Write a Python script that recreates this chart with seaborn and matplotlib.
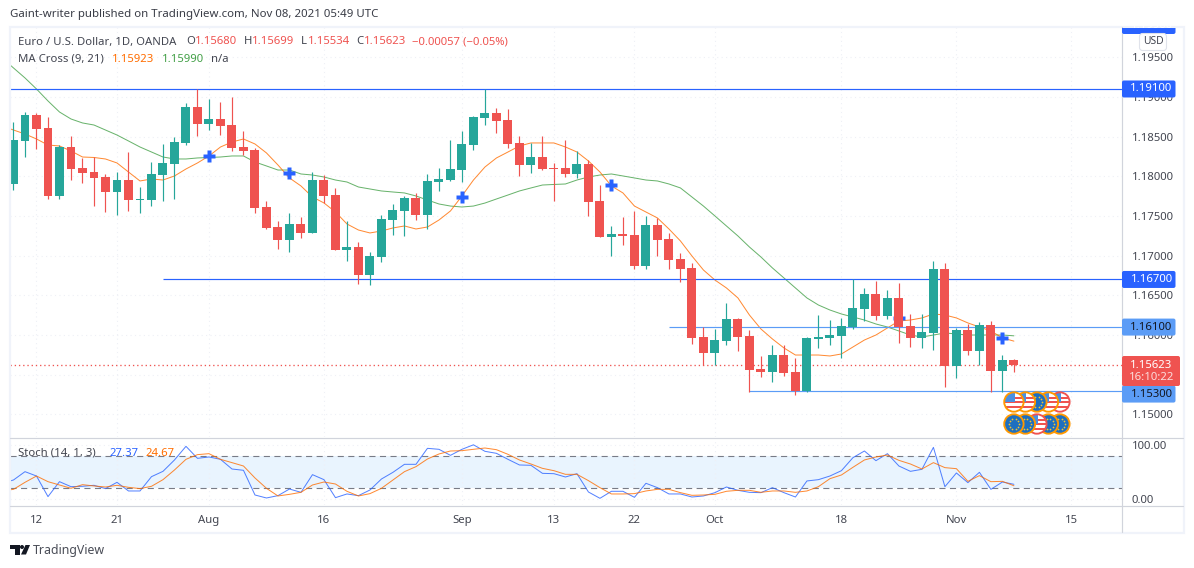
import numpy as np
import pandas as pd
import matplotlib
matplotlib.use("Agg")
import matplotlib.pyplot as plt
from matplotlib.patches import Rectangle, FancyBboxPatch, Circle, Polygon
import seaborn as sns

# ---------------- data ----------------
opens = [1.17903,1.18445,1.18772,1.18609,1.17752,1.18369,1.18105,1.18054,1.17991,1.17802,1.17953,1.17701,1.17701,1.18016,1.18155,1.18420,1.18873,1.18659,1.18722,1.18646,1.18369,1.18331,1.17613,1.17361,1.17197,1.17399,1.17286,1.17953,1.17765,1.17071,1.17109,1.16756,1.16983,1.17449,1.17563,1.17726,1.17512,1.17928,1.17953,1.18079,1.18394,1.18735,1.18798,1.18709,1.18420,1.18142,1.18243,1.18105,1.18105,1.18029,1.18155,1.17689,1.17235,1.17273,1.17260,1.16870,1.17386,1.17209,1.16958,1.16844,1.15975,1.15773,1.15924,1.16201,1.15987,1.15572,1.15534,1.15748,1.15534,1.15294,1.15950,1.15962,1.15987,1.16101,1.16327,1.16516,1.16239,1.16466,1.16113,1.15962,1.16025,1.16832,1.15609,1.16063,1.15798,1.16126,1.15546,1.15680]
highs = [1.18684,1.18810,1.18798,1.18747,1.18394,1.18508,1.18231,1.18243,1.18029,1.18054,1.18306,1.17865,1.18180,1.18407,1.18495,1.18924,1.19100,1.18974,1.18936,1.19000,1.18571,1.18357,1.17689,1.17437,1.17537,1.17487,1.18054,1.18016,1.17853,1.17437,1.17172,1.17046,1.17512,1.17651,1.17752,1.17789,1.18029,1.18105,1.18457,1.18571,1.18760,1.19100,1.18861,1.18848,1.18508,1.18420,1.18508,1.18168,1.18457,1.18319,1.18205,1.17890,1.17374,1.17487,1.17563,1.17500,1.17475,1.17285,1.17033,1.16907,1.16101,1.16076,1.16403,1.16214,1.16063,1.15735,1.15874,1.15874,1.15710,1.15975,1.16252,1.16189,1.16214,1.16705,1.16592,1.16680,1.16567,1.16655,1.16264,1.16264,1.16933,1.16907,1.16088,1.16138,1.16164,1.16176,1.15748,1.15699]
lows = [1.17827,1.18243,1.18344,1.17714,1.17714,1.17953,1.17915,1.17625,1.17550,1.17512,1.17563,1.17537,1.17625,1.17689,1.17714,1.18394,1.18508,1.18583,1.18520,1.18319,1.18268,1.17537,1.17336,1.17084,1.17046,1.17223,1.17286,1.17663,1.17071,1.16933,1.16643,1.16630,1.16920,1.17260,1.17247,1.17449,1.17336,1.17815,1.17941,1.17928,1.18331,1.18646,1.18546,1.18357,1.18004,1.18042,1.18079,1.17689,1.17991,1.17979,1.17500,1.17235,1.16995,1.17134,1.16832,1.16832,1.16995,1.16832,1.16668,1.15887,1.15622,1.15622,1.15874,1.15798,1.15282,1.15471,1.15408,1.15483,1.15244,1.15282,1.15836,1.15874,1.15710,1.16076,1.16176,1.16189,1.16201,1.15899,1.15849,1.15836,1.15811,1.15345,1.15458,1.15748,1.15622,1.15282,1.15282,1.15534]
closes = [1.18457,1.18772,1.18596,1.17752,1.18369,1.18092,1.18042,1.17979,1.17802,1.17953,1.17701,1.17714,1.18029,1.18168,1.18432,1.18873,1.18659,1.18722,1.18634,1.18357,1.18319,1.17601,1.17349,1.17197,1.17399,1.17286,1.17953,1.17752,1.17071,1.17109,1.16756,1.16995,1.17462,1.17575,1.17726,1.17512,1.17941,1.17966,1.18092,1.18407,1.18747,1.18798,1.18697,1.18407,1.18142,1.18243,1.18092,1.18092,1.18029,1.18155,1.17676,1.17235,1.17273,1.17248,1.16870,1.17386,1.17197,1.16945,1.16832,1.15962,1.15773,1.15937,1.16201,1.15975,1.15559,1.15534,1.15748,1.15521,1.15294,1.15962,1.15975,1.16000,1.16113,1.16340,1.16516,1.16239,1.16466,1.16101,1.15962,1.16038,1.16832,1.15609,1.16063,1.15798,1.16126,1.15546,1.15685,1.15623]

# moving averages and stochastic start one session before the first full candle
ma_slow = [1.19491,1.19365,1.19239,1.19100,1.18949,1.18810,1.18722,1.18672,1.18646,1.18583,1.18520,1.18445,1.18369,1.18306,1.18243,1.18218,1.18218,1.18231,1.18237,1.18243,1.18256,1.18256,1.18180,1.18130,1.18079,1.18079,1.18029,1.18016,1.17991,1.17953,1.17928,1.17865,1.17840,1.17815,1.17802,1.17790,1.17752,1.17701,1.17651,1.17625,1.17613,1.17625,1.17663,1.17714,1.17764,1.17815,1.17853,1.17890,1.17897,1.17903,1.17953,1.17991,1.18016,1.18029,1.18004,1.17979,1.17953,1.17941,1.17903,1.17853,1.17739,1.17625,1.17500,1.17374,1.17248,1.17109,1.16983,1.16845,1.16719,1.16593,1.16467,1.16378,1.16315,1.16265,1.16227,1.16189,1.16139,1.16101,1.16051,1.16000,1.15975,1.16000,1.16026,1.16013,1.16000,1.16000,1.16000,1.16000,1.15990]
ma_fast = [1.18634,1.18583,1.18533,1.18470,1.18394,1.18382,1.18319,1.18243,1.18237,1.18218,1.18168,1.18054,1.17941,1.17966,1.17953,1.18004,1.18092,1.18168,1.18256,1.18369,1.18432,1.18470,1.18407,1.18294,1.18142,1.17979,1.17878,1.17739,1.17664,1.17550,1.17399,1.17323,1.17286,1.17311,1.17349,1.17374,1.17336,1.17361,1.17449,1.17563,1.17752,1.17953,1.18117,1.18231,1.18306,1.18382,1.18420,1.18420,1.18420,1.18369,1.18306,1.18193,1.18054,1.17878,1.17790,1.17625,1.17550,1.17475,1.17336,1.17185,1.16996,1.16819,1.16693,1.16593,1.16467,1.16252,1.16076,1.15950,1.15837,1.15748,1.15748,1.15748,1.15736,1.15761,1.15849,1.15937,1.16000,1.16089,1.16177,1.16189,1.16215,1.16265,1.16252,1.16215,1.16152,1.16101,1.16051,1.15963,1.15923]
stoch_k = [29.2,35.3,50.6,42.6,4.7,32.2,23.0,23.7,25.5,19.4,31.0,15.1,15.1,41.4,51.2,72.1,97.2,75.1,77.6,73.3,55.5,53.1,7.7,2.2,6.5,18.7,12.6,45.1,35.9,2.8,9.6,6.5,16.9,37.1,49.4,64.1,64.1,93.5,91.7,80.6,91.7,100.0,88.0,84.3,73.3,62.9,62.3,47.5,46.9,40.8,46.9,13.2,1.6,14.5,14.5,3.4,29.2,21.2,9.6,9.6,4.0,5.9,12.0,22.4,16.3,12.6,12.0,21.2,12.0,4.0,33.5,35.9,42.6,52.4,76.3,88.6,70.8,83.7,61.0,51.2,54.9,95.3,23.0,48.2,30.4,49.4,18.1,31.6,27.37]
stoch_d = [15.1,18.1,31.0,42.6,32.2,26.1,20.0,26.7,24.3,22.4,25.5,21.8,19.4,23.7,35.9,53.7,73.3,81.9,83.7,73.3,67.2,61.0,39.0,20.0,5.9,8.9,12.6,26.1,31.6,27.9,14.5,5.9,10.2,20.0,35.3,50.6,59.8,73.9,83.1,88.6,89.2,91.7,94.1,91.0,82.5,72.1,64.7,56.7,52.4,45.7,45.7,34.1,21.2,9.6,9.6,10.2,15.1,18.1,18.1,12.0,7.1,7.7,8.9,14.5,16.3,16.3,12.6,15.1,15.1,12.6,15.1,23.0,37.7,44.5,58.6,72.1,77.6,81.2,71.4,64.7,55.5,67.2,58.0,56.1,32.8,43.3,32.2,32.8,24.67]

cross_idx = [17, 24, 39, 52, 77, 86]
cross_price = [1.18256, 1.18042, 1.17739, 1.17890, 1.16214, 1.15963]

level_price = [1.19100, 1.16700, 1.16100, 1.15300]
level_start = [-1, 13, 57, 64]

price_ticks = [1.19500,1.19000,1.18500,1.18000,1.17500,1.17000,1.16500,1.16000,1.15500,1.15000]
covered_ticks = [1.15500]  # sits behind the last-price tag in the reference
date_idx = [2, 9, 17, 27, 39, 47, 54, 61, 72, 82, 92]
date_labels = ["12","21","Aug","16","Sep","13","22","Oct","18","Nov","15"]

event_idx = [87, 88, 89, 90, 91]
events_top = ["US", "US", "EU", "US", "US"]
events_bot = ["EU", "EU", "US", "EU", "EU"]
rings_top = ["#FF9800", "#FF9800", "#FF9800", "#FF9800", "#EF5350"]
rings_bot = ["#FF9800", "#FF9800", "#EF5350", "#FF9800", "#FF9800"]

# ---------------- style ----------------
sns.set_theme(style="white")
FONT = ["Noto Sans", "DejaVu Sans"]
plt.rcParams["font.family"] = FONT
UP, DOWN = "#26A69A", "#EF5350"
BLUE, LIGHT = "#2962FF", "#5B9CF6"
ORANGE, GREEN = "#FF6D00", "#43A047"
TXT = "#434651"
GRID = "#EEF0F6"
SEP = "#D1D4DC"
W, H = 1194, 568
FS = 8.15

fig = plt.figure(figsize=(W / 100, H / 100), dpi=100, facecolor="white")


def pane(x0, y0, x1, y1, **kw):
    return fig.add_axes([x0 / W, 1 - y1 / H, (x1 - x0) / W, (y1 - y0) / H], **kw)


ax = pane(10, 27, 1122, 437)
sx = pane(10, 438, 1122, 505)
XL = (-0.304, 96.4)

df = pd.DataFrame({"open": opens, "high": highs, "low": lows, "close": closes})
df["i"] = np.arange(len(df))
lines = pd.DataFrame({"i": np.arange(-1, len(df)), "fast": ma_fast, "slow": ma_slow,
                      "k": stoch_k, "d": stoch_d})

# price pane
colors = [UP if c >= o else DOWN for o, c in zip(df.open, df.close)]
sns.lineplot(data=lines, x="i", y="slow", ax=ax, color=GREEN, linewidth=0.72, errorbar=None, zorder=2, alpha=.8)
sns.lineplot(data=lines, x="i", y="fast", ax=ax, color=ORANGE, linewidth=0.72, errorbar=None, zorder=2.1, alpha=.8)
for p, s in zip(level_price, level_start):
    ax.hlines(p, s, XL[1], color=BLUE if p in (1.19100, 1.16700) else LIGHT, lw=0.85, zorder=2.2)
ax.axhline(closes[-1], color=DOWN, ls=(0, (1, 2.2)), lw=0.95, zorder=1.5)
ax.plot(cross_idx, cross_price, ls="", marker="P", ms=8.2, mfc=BLUE, mec="none", zorder=2.5)
ax.vlines(df.i, df.low, df.high, colors=colors, lw=0.85, zorder=3)
ax.bar(df.i, (df.close - df.open).abs(), bottom=df[["open", "close"]].min(axis=1),
       width=0.78, color=colors, linewidth=0, zorder=3.2)
ax.set_xlim(*XL)
ax.set_ylim(1.14715, 1.19881)

# stochastic pane
sx.axhspan(20, 80, color="#E9F4FE", lw=0, zorder=0.5)
for lvl in (20, 80):
    sx.axhline(lvl, color="#787B86", lw=0.8, ls=(0, (5.5, 4)), zorder=1)
sns.lineplot(data=lines, x="i", y="k", ax=sx, color=BLUE, linewidth=0.72, errorbar=None, zorder=2, alpha=.8)
sns.lineplot(data=lines, x="i", y="d", ax=sx, color=ORANGE, linewidth=0.72, errorbar=None, zorder=2.1, alpha=.8)
sx.set_xlim(*XL)
sx.set_ylim(-10.7, 112.5)

for a in (ax, sx):
    a.set_xlabel("")
    a.set_ylabel("")
    a.patch.set_alpha(0)
    for s in a.spines.values():
        s.set_visible(False)
    a.grid(True, color=GRID, ls=(0, (1, 3)), lw=0.8)
    a.set_axisbelow(True)
    a.yaxis.tick_right()
    a.tick_params(axis="y", length=0, pad=7.2, labelsize=FS, labelcolor=TXT)
    a.tick_params(axis="x", length=0, pad=7.0, labelsize=FS, labelcolor=TXT)
    a.set_xticks(date_idx)

ax.set_yticks(price_ticks)
ax.set_yticklabels(["" if p in covered_ticks else f"{p:.5f}" for p in price_ticks])
ax.set_xticklabels([])
sx.set_yticks([0, 100])
sx.set_yticklabels(["0.00", "100.00"])
sx.set_xticklabels(date_labels)

# ---------------- overlay in image pixels ----------------
ov = fig.add_axes([0, 0, 1, 1], zorder=5)
ov.set_xlim(0, W)
ov.set_ylim(H, 0)
ov.axis("off")
ov.patch.set_alpha(0)


def price_y(p):
    return H - ax.transData.transform((0, p))[1]


def index_x(i):
    return ax.transData.transform((i, 1.17))[0]


def T(x, y, s, c=TXT, size=FS, ha="left", **kw):
    return ov.text(x, y, s, color=c, fontsize=size, ha=ha, va="center", **kw)


# frame and separators
ov.add_patch(Rectangle((10, 27), 1174, 506, fill=False, ec="#F0F3FA", lw=1.6, zorder=1))
ov.plot([1122, 1122], [27, 532], color=SEP, lw=0.85, zorder=1)
ov.plot([10, 1183], [437.5, 437.5], color=SEP, lw=0.85, zorder=1)
ov.plot([10, 1183], [505.5, 505.5], color=SEP, lw=0.85, zorder=1)


def tag(p, text, fc, tc, x1=1175.5, dy=0.0, clip=False):
    yc = price_y(p) + dy
    box = FancyBboxPatch((1122, yc - 8.5), x1 - 1122, 17, boxstyle="round,pad=0,rounding_size=2",
                         fc=fc, ec="none", zorder=3, mutation_aspect=1)
    ov.add_patch(box)
    t = T(1151.5, yc, text, c=tc, ha="center", zorder=4, fontweight="bold" if tc == "white" else "normal")
    if clip:
        r = Rectangle((1122, 28), 62, 10, transform=ov.transData)
        box.set_clip_path(r)
        t.set_clip_path(r)


tag(1.19900, "1.19900", BLUE, "white", clip=True)
tag(1.19100, "1.19100", BLUE, "white")
tag(1.16700, "1.16700", BLUE, "white")
tag(1.16100, "1.16100", LIGHT, "#131722")
tag(1.15300, "1.15300", LIGHT, "#131722", dy=3.5)

ov.add_patch(FancyBboxPatch((1122, 356), 58, 30, boxstyle="round,pad=0,rounding_size=2",
                            fc=DOWN, ec="none", zorder=3.5))
T(1151.5, 365, f"{closes[-1]:.5f}", c="white", ha="center", zorder=4, fontweight="bold")
T(1151.5, 378, "16:10:22", c="#FBDCDB", ha="center", zorder=4, fontweight="bold")

ov.add_patch(FancyBboxPatch((1139.5, 33.5), 27, 17, boxstyle="round,pad=0,rounding_size=3",
                            fc="white", ec="#E0E3EB", lw=0.8, zorder=3))
T(1153, 42, "USD", ha="center", zorder=4, size=7.4)

# header and legends
T(10, 15, "Gaint-writer published on TradingView.com, Nov 08, 2021 05:49 UTC", size=8.25, c="#3A3D47")
T(18, 42, "Euro / U.S. Dollar, 1D, OANDA")
for x, lab, xv, val in [(186, "O", 195, "1.15680"), (244, "H", 252, "1.15699"),
                        (301, "L", 308, "1.15534"), (356, "C", 364, "1.15623")]:
    T(x, 42, lab)
    T(xv, 42, val, c=DOWN)
T(412, 42, "\u22120.00057 (\u22120.05%)", c=DOWN)
T(18, 59, "MA Cross (9, 21)")
T(112, 59, f"{ma_fast[-1]:.5f}", c=ORANGE)
T(162, 59, f"{ma_slow[-1]:.5f}", c=GREEN)
T(211, 59, "n/a")
T(18, 453, "Stoch (14, 1, 3)")
T(109, 453, f"{stoch_k[-1]:.2f}", c=BLUE)
T(146, 453, f"{stoch_d[-1]:.2f}", c=ORANGE)


# event badges: later events sit under earlier ones
def badge(cx, cy, kind, ring, z):
    r = 9.7
    base = Circle((cx, cy), r, fc="white" if kind == "US" else "#1E6FC0", ec="none", zorder=z)
    ov.add_patch(base)
    if kind == "US":
        for k in (-5.5, -1, 3.5):
            s = Rectangle((cx - r, cy + k), 2 * r, 2.3, fc="#EF5350", ec="none", zorder=z + .01)
            ov.add_patch(s)
            s.set_clip_path(base)
        s = Rectangle((cx - r, cy - r), r + 1, r - .5, fc="#4A90E2", ec="none", zorder=z + .02)
        ov.add_patch(s)
        s.set_clip_path(base)
    else:
        a = np.linspace(0, 2 * np.pi, 10, endpoint=False)
        ov.scatter(cx + 5.4 * np.cos(a), cy + 5.4 * np.sin(a), s=1.6, c="#F2C230", lw=0, zorder=z + .01)
    ov.add_patch(Circle((cx, cy), r, fc="none", ec=ring, lw=1.35, zorder=z + .03))


for row_y, kinds, rings in [(402, events_top, rings_top), (424, events_bot, rings_bot)]:
    for n in range(len(kinds) - 1, -1, -1):
        badge(index_x(event_idx[n]), row_y, kinds[n], rings[n], 2 + (5 - n) * .1)

# footer logo and name
LOGO = "#131722"
ov.add_patch(Polygon([(10, 545), (19.5, 545), (19.5, 554.5), (15, 554.5), (15, 549), (10, 549)], fc=LOGO, ec="none"))
ov.add_patch(Circle((22, 547), 2, fc=LOGO, ec="none"))
ov.add_patch(Polygon([(25.5, 545), (30, 545), (26, 554.5), (21, 554.5)], fc=LOGO, ec="none"))
T(33, 550.5, "TradingView", size=8.9, c="#4A4D57")

fig.savefig("out.png", dpi=100, facecolor="white")
